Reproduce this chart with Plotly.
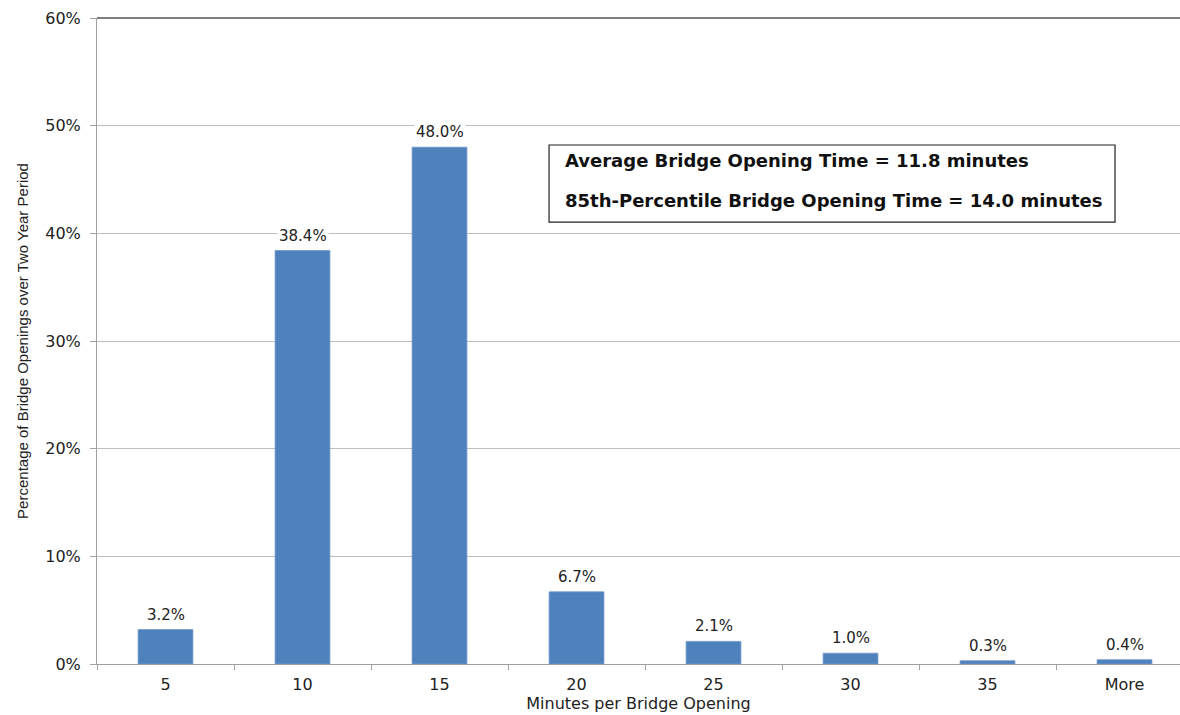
import plotly.graph_objects as go

categories = ["5", "10", "15", "20", "25", "30", "35", "More"]
percent_values = [3.2, 38.4, 48.0, 6.7, 2.1, 1.0, 0.3, 0.4]
y_ticks = [0, 10, 20, 30, 40, 50, 60]
y_tick_labels = ["0%", "10%", "20%", "30%", "40%", "50%", "60%"]
note_lines = ["Average Bridge Opening Time = 11.8 minutes",
              "85th-Percentile Bridge Opening Time = 14.0 minutes"]

FONT = "DejaVu Sans, Arial, sans-serif"
FONT_Y = "Liberation Sans, Arial, sans-serif"

fig = go.Figure()
fig.add_trace(go.Bar(
    x=categories, y=percent_values, width=0.4,
    marker=dict(color="#4F81BD", line=dict(color="#6F98CC", width=0.8)),
    hoverinfo="skip",
))

# value labels with white background (they interrupt the gridlines like the original)
for i, v in enumerate(percent_values):
    fig.add_annotation(x=i, y=v, text=f"{v:.1f}%", showarrow=False,
                       yanchor="bottom", yshift=4, bgcolor="white", borderpad=1,
                       font=dict(family=FONT, size=15, color="#222222"))

fig.update_layout(
    width=1180, height=715,
    margin=dict(l=97, r=0, t=18, b=51),
    paper_bgcolor="white", plot_bgcolor="white",
    showlegend=False,
    font=dict(family=FONT, color="#222222"),
    xaxis=dict(
        type="category", range=[-0.5, 7.405],
        tickson="boundaries", ticks="outside", ticklen=5, tickcolor="#A0A0A0",
        ticklabelstandoff=6,
        showline=True, linecolor="#A0A0A0", linewidth=1,
        showgrid=False,
        tickfont=dict(family=FONT, size=16, color="#222222"),
        title=dict(text="Minutes per Bridge Opening", standoff=4,
                   font=dict(family=FONT, size=16, color="#222222")),
    ),
    yaxis=dict(
        range=[0, 60], tickvals=y_ticks, ticktext=y_tick_labels,
        ticks="outside", ticklen=6, tickcolor="#A0A0A0",
        ticklabelstandoff=6,
        showline=True, linecolor="#A0A0A0", linewidth=1,
        showgrid=True, gridcolor="#BEBEBE", gridwidth=1,
        zeroline=False,
        tickfont=dict(family=FONT, size=16, color="#222222"),
        title=dict(text="Percentage of Bridge Openings over Two Year Period", standoff=12,
                   font=dict(family=FONT_Y, size=15, color="#222222")),
    ),
)

# darker top border line at 60%
fig.add_shape(type="line", xref="paper", yref="paper", x0=0, x1=1, y0=1, y1=1,
              line=dict(color="#7F7F7F", width=2))

# annotation box
fig.add_shape(type="rect", xref="paper", yref="paper",
              x0=0.4174, x1=0.94, y0=0.684, y1=0.8034,
              line=dict(color="#222222", width=1.2), fillcolor="white", layer="above")
for yy, txt in zip([0.780, 0.717], note_lines):
    fig.add_annotation(xref="paper", yref="paper", x=0.4303, y=yy, text=f"<b>{txt}</b>",
                       showarrow=False, xanchor="left", yanchor="middle",
                       font=dict(family=FONT, size=18, color="#111111"))

fig.write_html("out.html")
